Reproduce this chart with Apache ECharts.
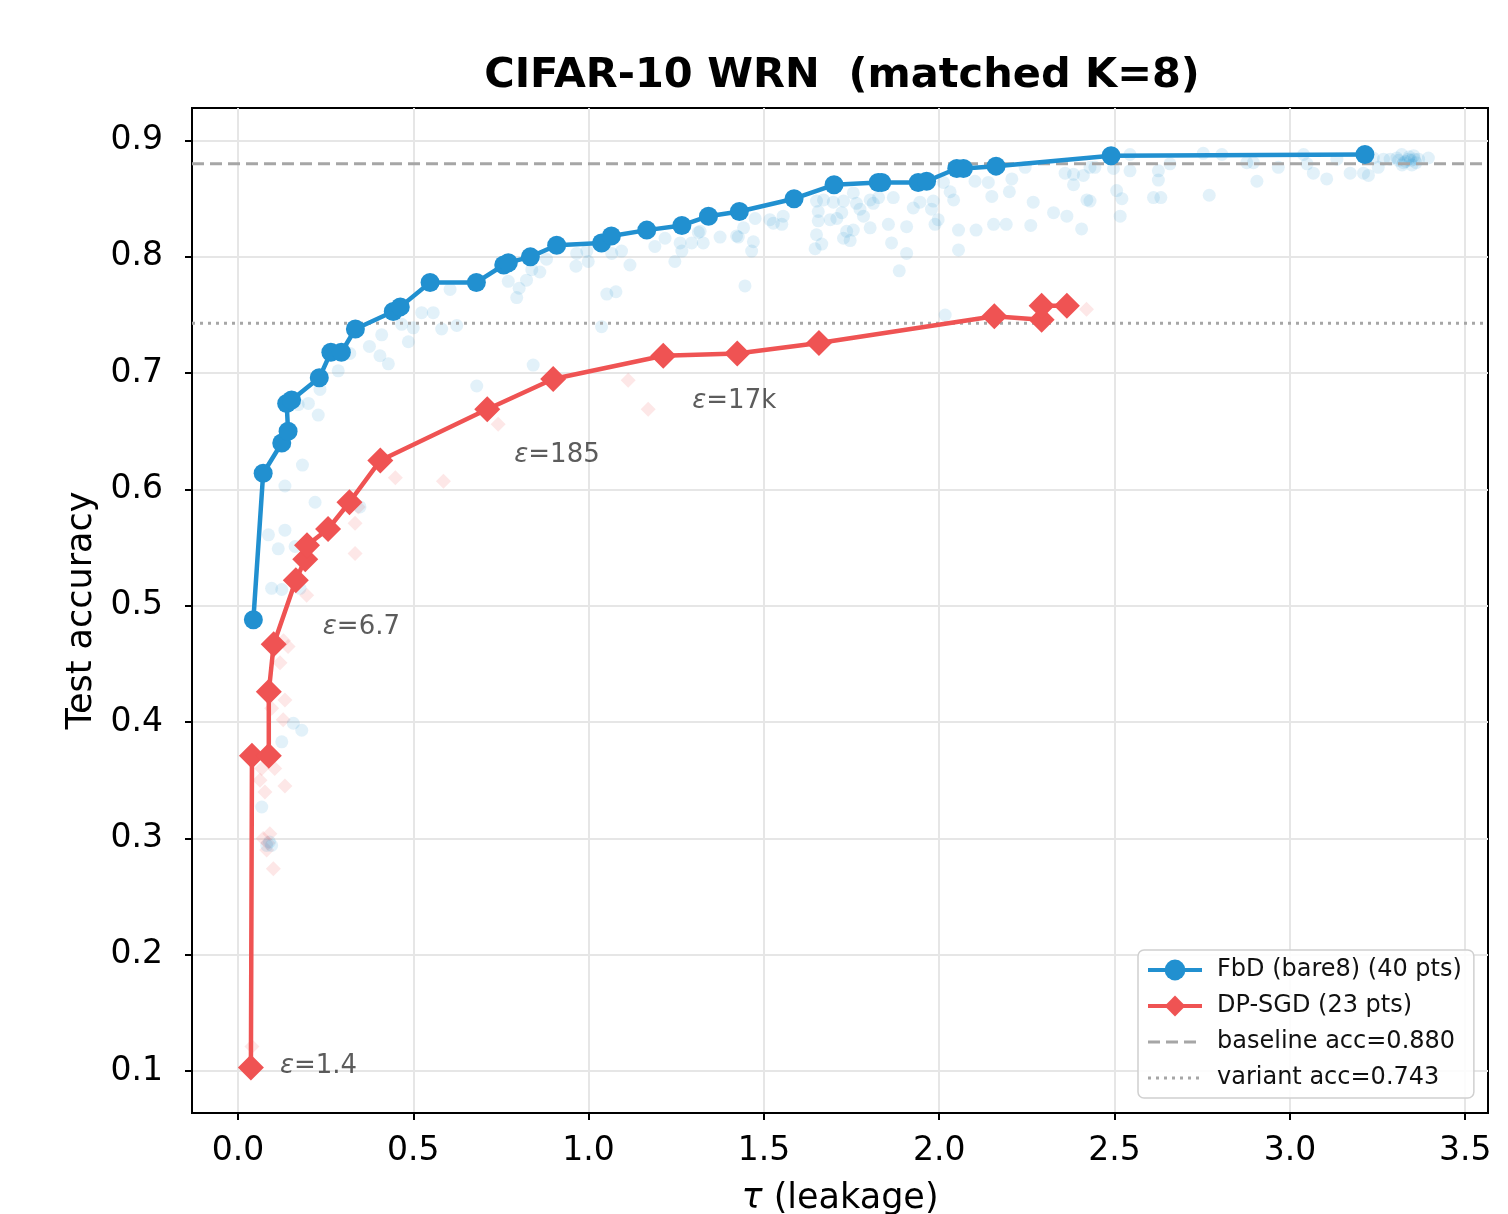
<!DOCTYPE html>
<html>
<head>
<meta charset="utf-8">
<script src="https://cdn.jsdelivr.net/npm/echarts@6/dist/echarts.min.js"></script>
<style>html,body{margin:0;padding:0;background:#fff;}#c{width:1508px;height:1214px;}</style>
</head>
<body>
<div id="c"></div>
<script>
// ---- data ----
const titleText = 'CIFAR-10 WRN  (matched K=8)';
const xTicks = [0.0, 0.5, 1.0, 1.5, 2.0, 2.5, 3.0, 3.5];
const yTicks = [0.1, 0.2, 0.3, 0.4, 0.5, 0.6, 0.7, 0.8, 0.9];
const xRange = [-0.131, 3.565];
const yRange = [0.0639, 0.928];

const fbdX = [0.044,0.072,0.125,0.143,0.139,0.153,0.232,0.265,0.295,0.335,0.443,0.463,0.548,0.680,0.758,0.771,0.834,0.909,1.037,1.065,1.166,1.266,1.342,1.430,1.586,1.700,1.826,1.836,1.940,1.964,2.050,2.069,2.162,2.490,3.214];
const fbdY = [0.488,0.614,0.640,0.650,0.674,0.677,0.696,0.718,0.718,0.738,0.753,0.757,0.778,0.778,0.793,0.795,0.800,0.810,0.812,0.818,0.823,0.827,0.835,0.839,0.850,0.862,0.864,0.864,0.864,0.865,0.876,0.876,0.878,0.887,0.888];

const dpX = [0.037,0.040,0.088,0.088,0.102,0.165,0.192,0.197,0.257,0.318,0.406,0.711,0.899,1.213,1.424,1.657,2.157,2.292,2.292,2.364];
const dpY = [0.103,0.371,0.371,0.426,0.467,0.522,0.540,0.552,0.566,0.589,0.625,0.669,0.695,0.715,0.717,0.726,0.749,0.746,0.758,0.758];

const baselineAcc = 0.880;
const variantAcc = 0.743;

const seriesNames = ['FbD (bare8) (40 pts)', 'DP-SGD (23 pts)', 'baseline acc=0.880', 'variant acc=0.743'];

// annotated DP-SGD points (index into dp arrays) and their epsilon texts
const annIdx = [0, 5, 11, 13];
const annText = ['1.4', '6.7', '185', '17k'];

// faint background runs
const bgFbd = [[0.172,0.673],[0.201,0.674],[0.229,0.664],[0.234,0.686],[0.184,0.621],[0.134,0.603],[0.220,0.589],[0.087,0.561],[0.134,0.565],[0.115,0.549],[0.163,0.551],[0.096,0.515],[0.125,0.514],[0.177,0.515],[0.348,0.585],[0.158,0.399],[0.182,0.393],[0.125,0.383],[0.068,0.327],[0.096,0.294],[0.082,0.294],[0.090,0.297],
[0.286,0.702],[0.319,0.717],[0.375,0.723],[0.405,0.715],[0.429,0.708],[0.410,0.733],[0.467,0.742],[0.500,0.739],[0.486,0.727],[0.524,0.752],[0.557,0.752],[0.581,0.738],[0.624,0.741],[0.605,0.772],[0.681,0.689],[0.771,0.779],[0.795,0.765],[0.802,0.773],[0.823,0.780],[0.861,0.787],[0.880,0.798],[0.838,0.789],[0.842,0.707],[0.966,0.803],[0.964,0.792],[0.999,0.796],[0.995,0.805],[1.052,0.768],[1.078,0.770],[1.037,0.740],[1.066,0.803],[1.094,0.805],[1.118,0.793],[1.189,0.809],[1.218,0.816],[1.261,0.812],[1.246,0.796],[1.294,0.812],[1.327,0.812],[1.313,0.821],[1.266,0.805],
[1.318,0.822],[1.375,0.817],[1.427,0.817],[1.442,0.825],[1.470,0.813],[1.465,0.805],[1.446,0.775],[1.475,0.833],[1.517,0.832],[1.551,0.828],[1.555,0.835],[1.422,0.818],[1.527,0.829],
[1.646,0.807],[1.650,0.819],[1.655,0.831],[1.655,0.839],[1.650,0.848],[1.670,0.849],[1.689,0.832],[1.708,0.833],[1.698,0.847],[1.727,0.848],[1.722,0.838],[1.736,0.822],[1.755,0.823],[1.727,0.816],[1.746,0.814],[1.665,0.811],[1.755,0.855],[1.764,0.846],[1.774,0.841],[1.784,0.835],[1.803,0.849],[1.812,0.846],[1.803,0.825],[1.827,0.851],[1.869,0.851],[1.855,0.828],[1.864,0.812],[1.907,0.803],[1.886,0.788],[1.907,0.826],[1.926,0.842],[1.945,0.847],[1.978,0.841],[1.988,0.828],[1.997,0.832],[1.983,0.848],[2.012,0.864],[2.031,0.856],[2.041,0.849],[2.055,0.823],[2.055,0.806],[2.017,0.750],[2.102,0.865],[2.105,0.823],[2.140,0.864],[2.150,0.852],[2.155,0.828],[2.191,0.828],[2.200,0.856],[2.207,0.867],[2.245,0.877],[2.268,0.847],[2.261,0.827],[2.326,0.838],[2.364,0.835],[2.359,0.872],[2.383,0.871],[2.411,0.870],[2.383,0.862],[2.421,0.849],[2.406,0.824],[2.430,0.877],[2.444,0.877],
[2.497,0.876],[2.544,0.874],[2.506,0.857],[2.521,0.850],[2.516,0.835],[2.430,0.848],[2.544,0.888],[2.625,0.874],[2.625,0.866],[2.611,0.851],[2.632,0.851],[2.658,0.880],[2.753,0.889],[2.770,0.853],[2.806,0.888],[2.877,0.881],[2.896,0.881],[2.906,0.865],[2.967,0.877],[3.039,0.888],[3.049,0.880],[3.067,0.872],[3.105,0.867],[3.134,0.884],[3.172,0.872],[3.210,0.872],[3.224,0.870],[3.238,0.885],[3.252,0.877],[3.267,0.884],[3.286,0.884],[3.305,0.885],[3.319,0.888],[3.324,0.881],[3.338,0.884],[3.348,0.879],[3.353,0.887],[3.367,0.884],[3.395,0.885],[3.330,0.882],[3.340,0.886],[3.360,0.881],[3.345,0.883],[3.355,0.884],[3.310,0.883],[3.320,0.879]];

const bgDp = [[0.040,0.121],[0.063,0.350],[0.068,0.360],[0.077,0.340],[0.072,0.300],[0.091,0.304],[0.082,0.290],[0.101,0.274],[0.085,0.296],[0.134,0.345],[0.096,0.412],[0.129,0.402],[0.134,0.419],[0.120,0.451],[0.143,0.465],[0.196,0.509],[0.334,0.545],[0.334,0.571],[0.343,0.585],[0.449,0.610],[0.586,0.607],[0.742,0.656],[1.113,0.694],[1.170,0.669],[2.420,0.755],[0.130,0.470],[0.105,0.360]];

// ---- style ----
const BLUE = '#2190d0';
const RED = '#ef5353';
const GREY = '#a6a6a6';
const FONT = 'DejaVu Sans';
const annOffsets = [[24, -1], [22, 47], [22, 46], [24, 46]];

const fbdData = fbdX.map((x, i) => [x, fbdY[i]]);
const dpData = dpX.map((x, i) => [x, dpY[i]]);
const annData = annIdx.map((k, j) => ({
  value: [dpX[k], dpY[k]],
  label: {
    show: true, position: 'right', offset: annOffsets[j],
    formatter: '{e|ε}=' + annText[j]
  }
}));

const chart = echarts.init(document.getElementById('c'), null, {renderer: 'canvas'});
chart.setOption({
  animation: false,
  backgroundColor: '#ffffff',
  textStyle: {fontFamily: FONT},
  title: {
    text: titleText, left: 837, top: 50, textAlign: 'center',
    textStyle: {fontFamily: FONT, fontWeight: 'bold', fontSize: 41.5, color: '#000'}
  },
  grid: {
    left: 192, right: 20, top: 108, bottom: 101,
    outerBoundsMode: 'none', containLabel: false,
    show: true, borderColor: '#000', borderWidth: 2, backgroundColor: 'transparent'
  },
  legend: {
    data: [
      {name: seriesNames[0], lineStyle: {width: 4}},
      {name: seriesNames[1], lineStyle: {width: 4}},
      {name: seriesNames[2], itemStyle: {opacity: 0}, lineStyle: {width: 3}},
      {name: seriesNames[3], itemStyle: {opacity: 0}, lineStyle: {width: 3}}
    ],
    orient: 'vertical', left: 1138, top: 950,
    itemWidth: 54, itemHeight: 26, itemGap: 12,
    backgroundColor: 'rgba(255,255,255,0.85)', borderColor: '#d0d0d0', borderWidth: 1.5, borderRadius: 6,
    padding: [8, 12, 8, 8],
    textStyle: {fontFamily: FONT, fontSize: 24, color: '#111', padding: [0, 0, 0, 10]}
  },
  xAxis: {
    type: 'value', min: xRange[0], max: xRange[1],
    name: '{i|τ} (leakage)', nameLocation: 'middle', nameGap: 68,
    nameTextStyle: {fontFamily: FONT, fontSize: 35, color: '#000', rich: {i: {fontStyle: 'italic', fontSize: 35, fontFamily: FONT}}},
    axisLine: {show: true, onZero: false, lineStyle: {color: '#000', width: 2}},
    axisTick: {show: true, length: 7, lineStyle: {color: '#000', width: 2}, customValues: xTicks},
    axisLabel: {fontFamily: FONT, fontSize: 33, color: '#000', margin: 22, customValues: xTicks, formatter: v => v.toFixed(1)},
    splitLine: {show: true, lineStyle: {color: '#e6e6e6', width: 2}},
    splitNumber: 7
  },
  yAxis: {
    type: 'value', min: yRange[0], max: yRange[1],
    name: 'Test accuracy', nameLocation: 'middle', nameGap: 93, nameRotate: 90,
    nameTextStyle: {fontFamily: FONT, fontSize: 35, color: '#000'},
    axisLine: {show: true, onZero: false, lineStyle: {color: '#000', width: 2}},
    axisTick: {show: true, length: 7, lineStyle: {color: '#000', width: 2}, customValues: yTicks},
    axisLabel: {fontFamily: FONT, fontSize: 33, color: '#000', margin: 29, customValues: yTicks, formatter: v => v.toFixed(1)},
    splitLine: {show: true, lineStyle: {color: '#e6e6e6', width: 2}},
    splitNumber: 9
  },
  series: [
    {
      name: 'bgDp', type: 'scatter', data: bgDp, symbol: 'diamond', symbolSize: 15,
      itemStyle: {color: RED, opacity: 0.14}, silent: true, z: 1
    },
    {
      name: 'bgFbd', type: 'scatter', data: bgFbd, symbol: 'circle', symbolSize: 13,
      itemStyle: {color: BLUE, opacity: 0.13}, silent: true, z: 1
    },
    {
      name: seriesNames[2], type: 'line', data: [[xRange[0], baselineAcc], [xRange[1], baselineAcc]],
      symbol: 'none', lineStyle: {color: GREY, width: 3, type: [12, 6]}, itemStyle: {color: GREY}, z: 2
    },
    {
      name: seriesNames[3], type: 'line', data: [[xRange[0], variantAcc], [xRange[1], variantAcc]],
      symbol: 'none', lineStyle: {color: GREY, width: 3, type: [3, 5]}, itemStyle: {color: GREY}, z: 2
    },
    {
      name: seriesNames[0], type: 'line', data: fbdData, symbol: 'circle', symbolSize: 19,
      lineStyle: {color: BLUE, width: 4.5}, itemStyle: {color: BLUE}, z: 4
    },
    {
      name: seriesNames[1], type: 'line', data: dpData, symbol: 'diamond', symbolSize: 26,
      lineStyle: {color: RED, width: 4.5}, itemStyle: {color: RED}, z: 3
    },
    {
      name: 'annot', type: 'scatter', data: annData, symbolSize: 0, silent: true, z: 5,
      label: {
        fontFamily: FONT, fontSize: 26, color: '#333',
        rich: {e: {fontStyle: 'italic', fontSize: 26, fontFamily: FONT, color: '#333'}}
      }
    }
  ]
});
</script>
</body>
</html>
